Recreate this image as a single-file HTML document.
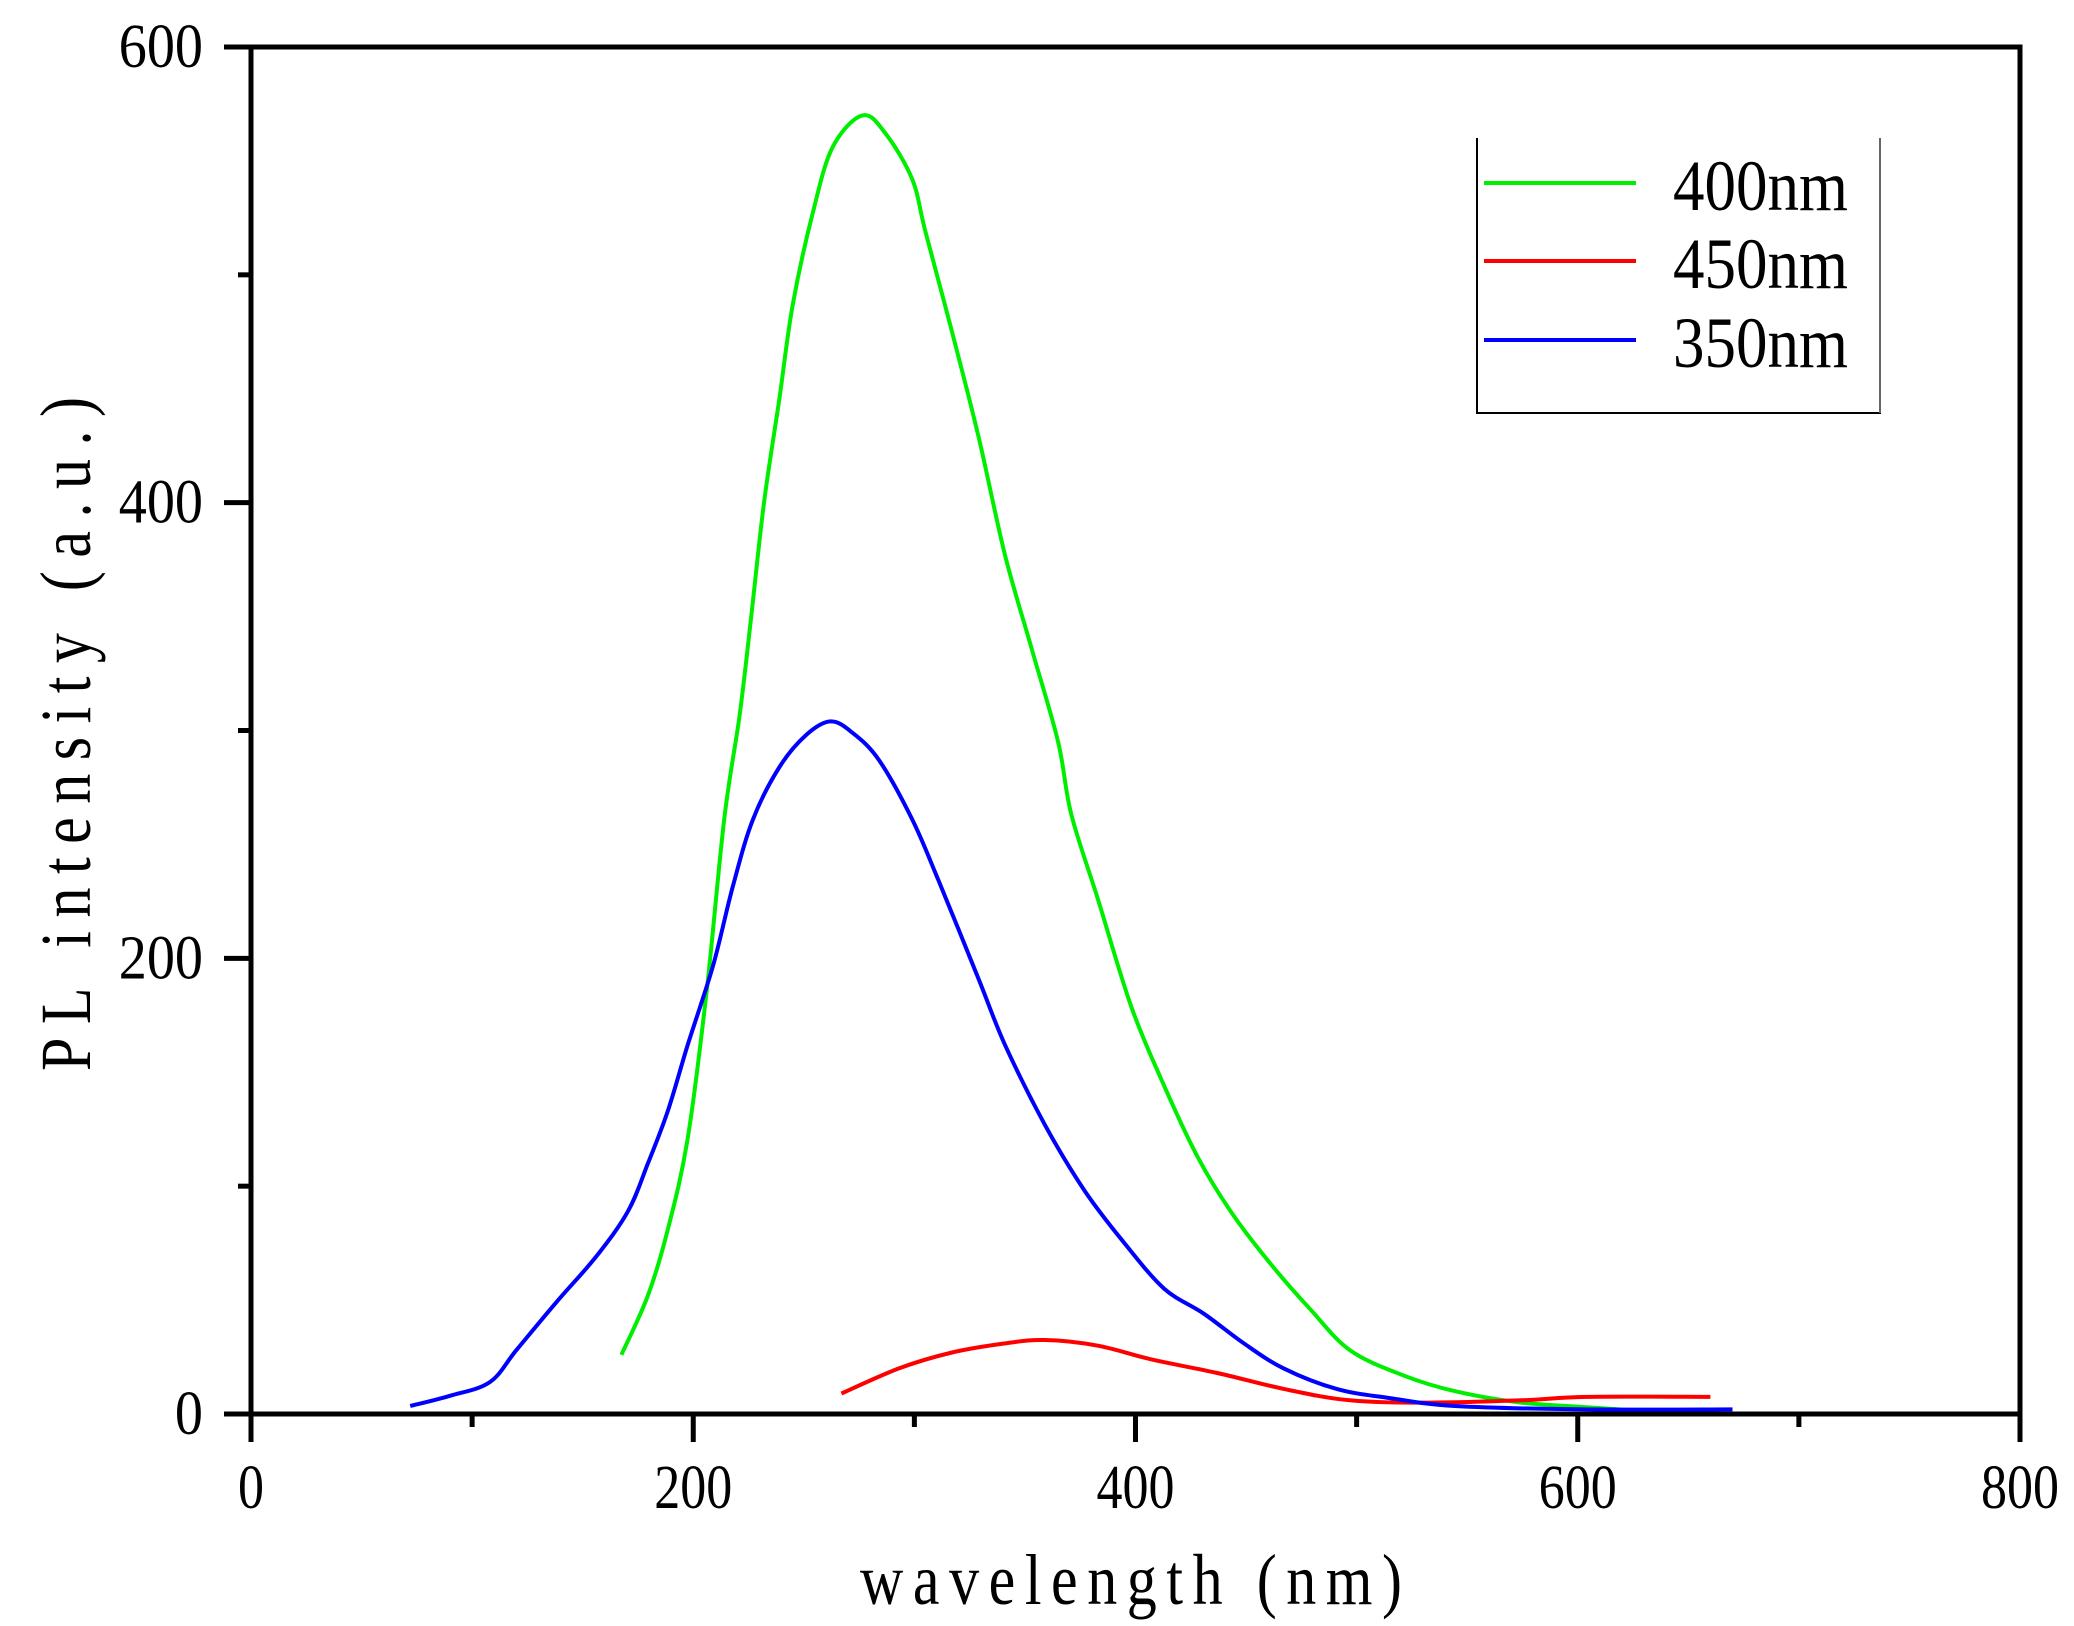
<!DOCTYPE html>
<html><head><meta charset="utf-8"><style>
html,body{margin:0;padding:0;background:#fff;}
svg{display:block;}
text{font-family:"Liberation Serif",serif;fill:#000;}
</style></head><body>
<svg id="chart" width="2074" height="1626" viewBox="0 0 2074 1626" xmlns="http://www.w3.org/2000/svg">
<g id="plot"></g>
</svg>
<script>
const xTicks = [0, 200, 400, 600, 800];
const yTicks = [0, 200, 400, 600];
const seriesNames = ["400nm", "450nm", "350nm"];
const seriesColors = ["#00ee00", "#ff0000", "#0000ff"];
const greenX = [167.5,179.5,188.5,197.5,206,214,221,226,232,239,245,254,263,276.5,287,299,305,317,329,341,353,365,371,383,398,413,428,443,461,479,497,521,544.5,574.5,604,634];
const greenY = [26,52,81,121,185,261,307,348,400,446,487,527,556,570,562,542,519,475,429,377,336,295,263,226,179,144,113,89,66,46,28,17,10,5,3,1];
const redX = [267,293,317,341,359,383,407,437,467,497,532.5,574.5,604,660];
const redY = [9,20,27,31,32.5,30,24,18,11,6,5,6,7.5,7.5];
const blueX = [72,90,108,120,138,156,170.5,179.5,188.5,197.5,209,218,227,239,251,262,272,284,299,311,329,341,359,377,395,413,431,449,467,491,515,544.5,604,670];
const blueY = [3.5,8,14,28,49,69,89,110,133,162,197,232,261,284,298,304,299,287,261,234,191,162,127,98,75,55,44,31,20,11,7,3.5,2,2];

const NS = "http://www.w3.org/2000/svg";
const L = 251, R = 2020, T = 47, B = 1414;
const sx = v => L + (v - 0) / 800 * (R - L);
const sy = v => B - (v - 0) / 600 * (B - T);
const g = document.getElementById('plot');
function mk(tag, attrs, parent) {
  const e = document.createElementNS(NS, tag);
  for (const k in attrs) e.setAttribute(k, attrs[k]);
  (parent || g).appendChild(e);
  return e;
}
function smoothPath(pts) {
  let d = 'M' + pts[0][0].toFixed(1) + ',' + pts[0][1].toFixed(1);
  for (let i = 0; i < pts.length - 1; i++) {
    const p0 = pts[Math.max(0, i - 1)], p1 = pts[i], p2 = pts[i + 1], p3 = pts[Math.min(pts.length - 1, i + 2)];
    const c1x = p1[0] + (p2[0] - p0[0]) / 6, c1y = p1[1] + (p2[1] - p0[1]) / 6;
    const c2x = p2[0] - (p3[0] - p1[0]) / 6, c2y = p2[1] - (p3[1] - p1[1]) / 6;
    d += ' C' + c1x.toFixed(1) + ',' + c1y.toFixed(1) + ' ' + c2x.toFixed(1) + ',' + c2y.toFixed(1) + ' ' + p2[0].toFixed(1) + ',' + p2[1].toFixed(1);
  }
  return d;
}
const sets = [[greenX, greenY], [redX, redY], [blueX, blueY]];
sets.forEach((s, i) => {
  const pts = s[0].map((x, j) => [sx(x), sy(s[1][j])]);
  const p = mk('path', {d: smoothPath(pts), fill: 'none', stroke: seriesColors[i], 'stroke-width': 4, 'stroke-linejoin': 'round'});
  
  
});
const fr = mk('rect', {x: L, y: T, width: R - L, height: B - T, fill: 'none', stroke: '#000', 'stroke-width': 5});


for (let v = 0; v <= 800; v += 100) {
  const major = v % 200 === 0;
  const t = mk('line', {x1: sx(v), x2: sx(v), y1: B, y2: B + (major ? 28 : 13), stroke: '#000', 'stroke-width': 5});
  
  
}
xTicks.forEach(v => {
  const t = mk('text', {x: 0, y: 0, 'font-size': 52, 'text-anchor': 'middle', transform: 'translate(' + sx(v) + ',' + (B + 94) + ') scale(1,1.2)'});
  t.textContent = v;
  
  
});
for (let v = 0; v <= 600; v += 100) {
  const major = v % 200 === 0;
  const t = mk('line', {x1: L, x2: L - (major ? 27 : 13), y1: sy(v), y2: sy(v), stroke: '#000', 'stroke-width': 5});
  
  
}
yTicks.forEach(v => {
  const t = mk('text', {x: 0, y: 0, 'font-size': 52, 'text-anchor': 'end', transform: 'translate(203,' + (sy(v) + 20) + ') scale(1.08,1.2)'});
  t.textContent = v;
  
  
});
const xt = mk('text', {x: 0, y: 0, 'font-size': 60, 'text-anchor': 'middle', textLength: 542, lengthAdjust: 'spacing', transform: 'translate(1131,1604) scale(1,1.2)'});
xt.textContent = 'wavelength (nm)';


const yt = mk('text', {x: 0, y: 0, 'font-size': 60, 'text-anchor': 'middle', textLength: 674, lengthAdjust: 'spacing', transform: 'translate(90,734) rotate(-90) scale(1,1.2)'});
yt.textContent = 'PL intensity (a.u.)';


const lg = mk('g', {});


mk('path', {d: 'M1477,138 L1477,413 L1880,413 L1880,138', fill: '#fff', stroke: '#000', 'stroke-width': 2}, lg);
mk('line', {x1: 1880, y1: 138, x2: 1880, y2: 413, stroke: '#ccc', 'stroke-width': 1}, lg);
const ly = [183, 261, 340];
seriesNames.forEach((n, i) => {
  const l = mk('line', {x1: 1484, x2: 1636, y1: ly[i], y2: ly[i], stroke: seriesColors[i], 'stroke-width': 4}, lg);
  
  
  const t = mk('text', {x: 0, y: 0, 'font-size': 60, transform: 'translate(1673,' + (ly[i] + 27) + ') scale(1.05,1.2)'}, lg);
  t.textContent = n;
  
  
});
</script>
</body></html>
